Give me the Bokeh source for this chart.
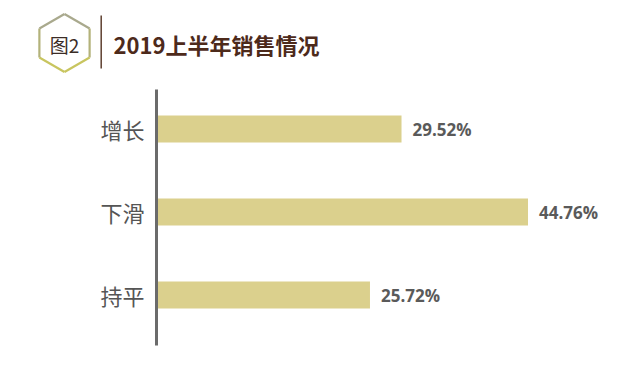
from bokeh.plotting import figure
from bokeh.models import Range1d, ColumnDataSource
from bokeh.core.properties import value
from bokeh.embed import file_html
from bokeh.resources import INLINE

# ---- data ----
categories = ["增长", "下滑", "持平"]
shares = [29.52, 44.76, 25.72]
badge_text = "图2"
title_text = "2019上半年销售情况"

CJK = "Noto Sans CJK SC"
W, H = 604, 352
PX_PER_UNIT = 8.3      # horizontal scale (px per percentage point)
ROW = 83.0             # px between category rows
AXIS_X = 156           # px from left of canvas where value 0 sits
TOP_ROW_Y = 128.5      # px from top of canvas to first row centre

# data ranges spanning the whole canvas
x_range = Range1d(-AXIS_X / PX_PER_UNIT, (W - AXIS_X) / PX_PER_UNIT)
n = len(categories)
y_top = (n - 1) + TOP_ROW_Y / ROW
y_range = Range1d(y_top - H / ROW, y_top)

p = figure(width=W, height=H, x_range=x_range, y_range=y_range,
           output_backend="svg", toolbar_location=None,
           x_axis_location=None, y_axis_location=None,
           min_border=0, outline_line_color=None)
p.xgrid.visible = False
p.ygrid.visible = False
# pixel coordinate ranges for the header decorations
p.extra_x_ranges = {"px": Range1d(0, W)}
p.extra_y_ranges = {"px": Range1d(H, 0)}

# ---- header ----
cx, cy, R = 64.0, 42.5, 29.0
hw = R * 0.866
verts = [(cx, cy - R), (cx + hw, cy - R / 2), (cx + hw, cy + R / 2),
         (cx, cy + R), (cx - hw, cy + R / 2), (cx - hw, cy - R / 2)]
edge_cols = ["#a9a98d", "#b3b27a", "#c8c55f", "#c8c55f", "#b3b27a", "#a9a98d"]
for i in range(6):
    a = verts[i]
    b = verts[(i + 1) % 6]
    p.line([a[0], b[0]], [a[1], b[1]], line_color=edge_cols[i], line_width=2.2,
           x_range_name="px", y_range_name="px")
p.text(x=[cx], y=[cy + 1], text=[badge_text], text_align="center",
       text_baseline="middle", text_font=value(CJK), text_font_size="19px",
       text_color="#3b2c26", x_range_name="px", y_range_name="px")
p.line([100.7, 100.7], [15, 68], line_color="#5e4030", line_width=1.5,
       x_range_name="px", y_range_name="px")
p.text(x=[113], y=[43], text=[title_text], text_align="left",
       text_baseline="middle", text_font=value(CJK), text_font_style="bold",
       text_font_size="22px", text_color="#4d2a1b",
       x_range_name="px", y_range_name="px")

# ---- chart ----
ypos = [n - 1 - i for i in range(n)]
labels = [f"{v:.2f}%" for v in shares]
src = ColumnDataSource(dict(cat=categories, v=shares, y=ypos, lab=labels))

p.hbar(y="y", right="v", left=0, height=0.325, source=src,
       fill_color="#dbd08d", line_color=None)
p.text(x="v", y="y", text="lab", source=src, x_offset=11,
       text_baseline="middle", text_align="left",
       text_font=value("Open Sans"), text_font_style="bold",
       text_font_size="17px", text_color="#5a5a5a")

# vertical axis line and category labels
axis_lo = -0.608
axis_hi = (n - 1) + 0.476
p.segment(x0=[0], y0=[axis_lo], x1=[0], y1=[axis_hi],
          line_color="#6b6b6b", line_width=3)
p.text(x=value(0), y="y", text="cat", source=src, x_offset=-12,
       text_align="right", text_baseline="middle",
       text_font=value(CJK), text_font_size="22px", text_color="#555555")

open("out.html", "w").write(file_html(p, INLINE))
